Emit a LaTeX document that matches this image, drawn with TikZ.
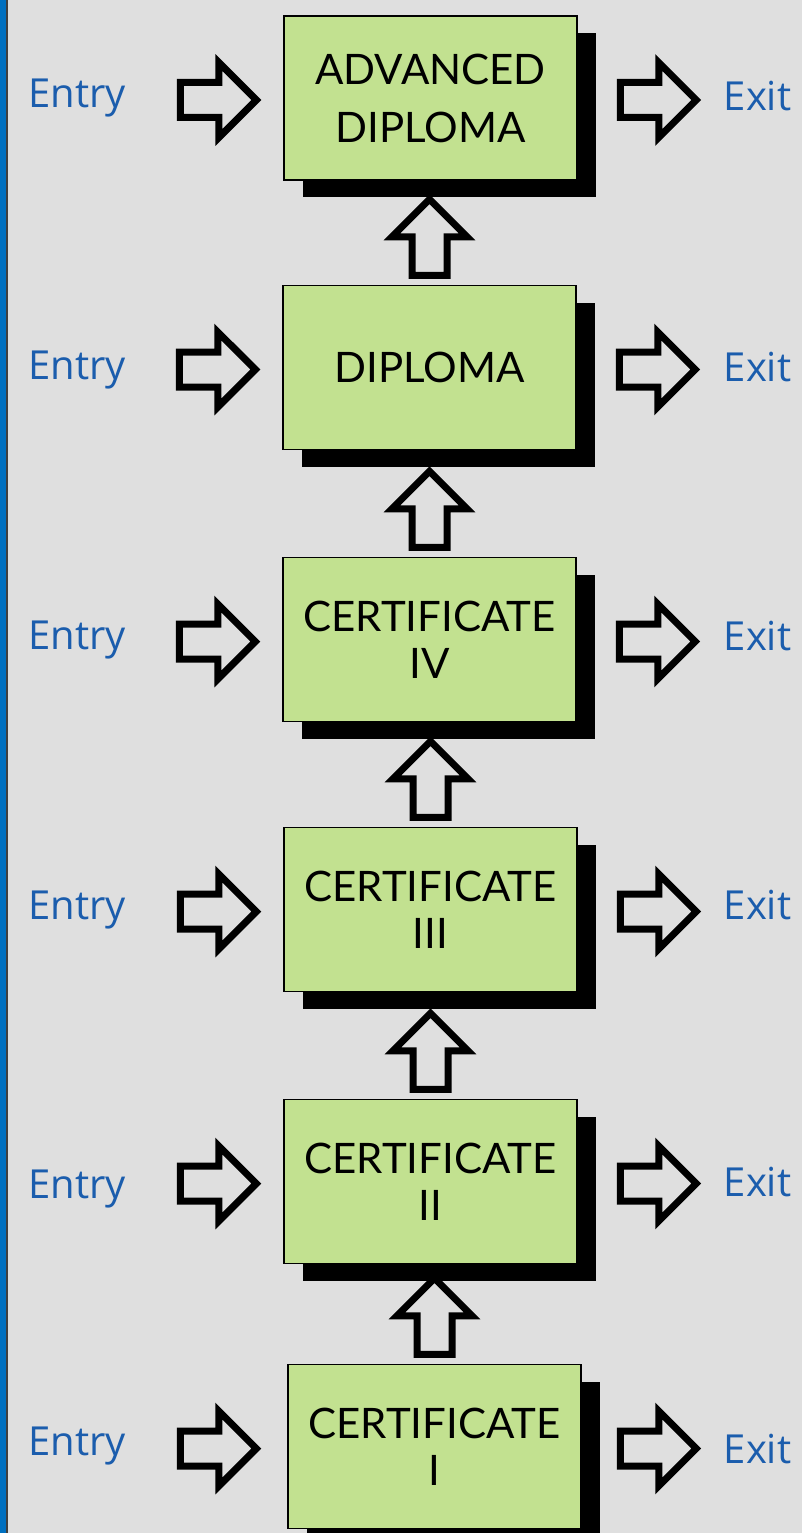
\documentclass[tikz,border=0pt]{standalone}
\usepackage{fontspec}
\setmainfont{Lato}
\newfontfamily\tagfont{Open Sans}
\usetikzlibrary{shapes.arrows,shadows}

\definecolor{pagegray}{HTML}{DFDFDF}
\definecolor{boxgreen}{HTML}{C2E190}
\definecolor{tagblue}{HTML}{1B5DAD}
\definecolor{barblue}{HTML}{0070C0}

\tikzset{
  level/.style={draw, line width=1.5pt, fill=boxgreen, minimum width=293pt, minimum height=164pt,
    align=center, font=\fontsize{42}{47}\selectfont,
    drop shadow={shadow xshift=19pt, shadow yshift=-17pt, fill=black, opacity=1}},
  flow/.style={single arrow, draw, line width=7pt, fill=pagegray, inner sep=14pt,
    minimum height=76pt, single arrow head extend=20pt},
  tag/.style={text=tagblue, font=\tagfont\fontsize{40}{40}\selectfont, anchor=base},
}

\begin{document}
\begin{tikzpicture}[x=1pt, y=-1pt]
    \useasboundingbox (0,0) rectangle (802,1533);
    \fill[pagegray] (0,0) rectangle (802,1533);
    % 左侧蓝条
    \fill[barblue] (0,0) rectangle (6,1533);
    \draw[black!75, line width=1.5pt] (7,0) -- (7,1533);

    % 课程方框
    \node[level] (adv) at (430.5,98) {ADVANCED\\[11pt]DIPLOMA};
    \node[level] (dip) at (429.5,367.5) {DIPLOMA};
    \node[level] (c4) at (429.5,639.5) {CERTIFICATE\\IV};
    \node[level] (c3) at (430.5,909.5) {CERTIFICATE\\III};
    \node[level] (c2) at (430.5,1181.5) {CERTIFICATE\\II};
    \node[level] (c1) at (434.5,1446.5) {CERTIFICATE\\I};

    % 升级箭头
    \node[flow, shape border rotate=90, anchor=tail] (up1) at ([yshift=6pt]dip.north) {};
    \node[flow, shape border rotate=90, anchor=tail] (up2) at ([yshift=6pt]c4.north) {};
    \node[flow, shape border rotate=90, anchor=tail] (up3) at ([yshift=6pt]c3.north) {};
    \node[flow, shape border rotate=90, anchor=tail] (up4) at ([yshift=6pt]c2.north) {};
    \node[flow, shape border rotate=90, anchor=tail] (up5) at ([yshift=6pt]c1.north) {};

    % 入口箭头
    \node[flow, anchor=tip] (in1) at ([xshift=-22pt, yshift=-2pt]adv.west) {};
    \node[flow, anchor=tip] (in2) at ([xshift=-22pt, yshift=-2pt]dip.west) {};
    \node[flow, anchor=tip] (in3) at ([xshift=-22pt, yshift=-2pt]c4.west) {};
    \node[flow, anchor=tip] (in4) at ([xshift=-22pt, yshift=-2pt]c3.west) {};
    \node[flow, anchor=tip] (in5) at ([xshift=-22pt, yshift=-2pt]c2.west) {};
    \node[flow, anchor=tip] (in6) at ([xshift=-26pt, yshift=-2pt]c1.west) {};

    % 出口箭头
    \node[flow, anchor=tail] (out1) at ([xshift=39pt, yshift=-2pt]adv.east) {};
    \node[flow, anchor=tail] (out2) at ([xshift=39pt, yshift=-2pt]dip.east) {};
    \node[flow, anchor=tail] (out3) at ([xshift=39pt, yshift=-2pt]c4.east) {};
    \node[flow, anchor=tail] (out4) at ([xshift=39pt, yshift=-2pt]c3.east) {};
    \node[flow, anchor=tail] (out5) at ([xshift=39pt, yshift=-2pt]c2.east) {};
    \node[flow, anchor=tail] (out6) at ([xshift=35pt, yshift=-2pt]c1.east) {};

    % 标签
    \node[tag] (entry1) at (77,108) {Entry};
    \node[tag] (entry2) at (77,379) {Entry};
    \node[tag] (entry3) at (77,649) {Entry};
    \node[tag] (entry4) at (77,919) {Entry};
    \node[tag] (entry5) at (77,1198) {Entry};
    \node[tag] (entry6) at (77,1455) {Entry};
    \node[tag] (exit1) at (757.5,111) {Exit};
    \node[tag] (exit2) at (757.5,381) {Exit};
    \node[tag] (exit3) at (757.5,650) {Exit};
    \node[tag] (exit4) at (757.5,919) {Exit};
    \node[tag] (exit5) at (757.5,1196) {Exit};
    \node[tag] (exit6) at (757.5,1463) {Exit};
\end{tikzpicture}
\end{document}
